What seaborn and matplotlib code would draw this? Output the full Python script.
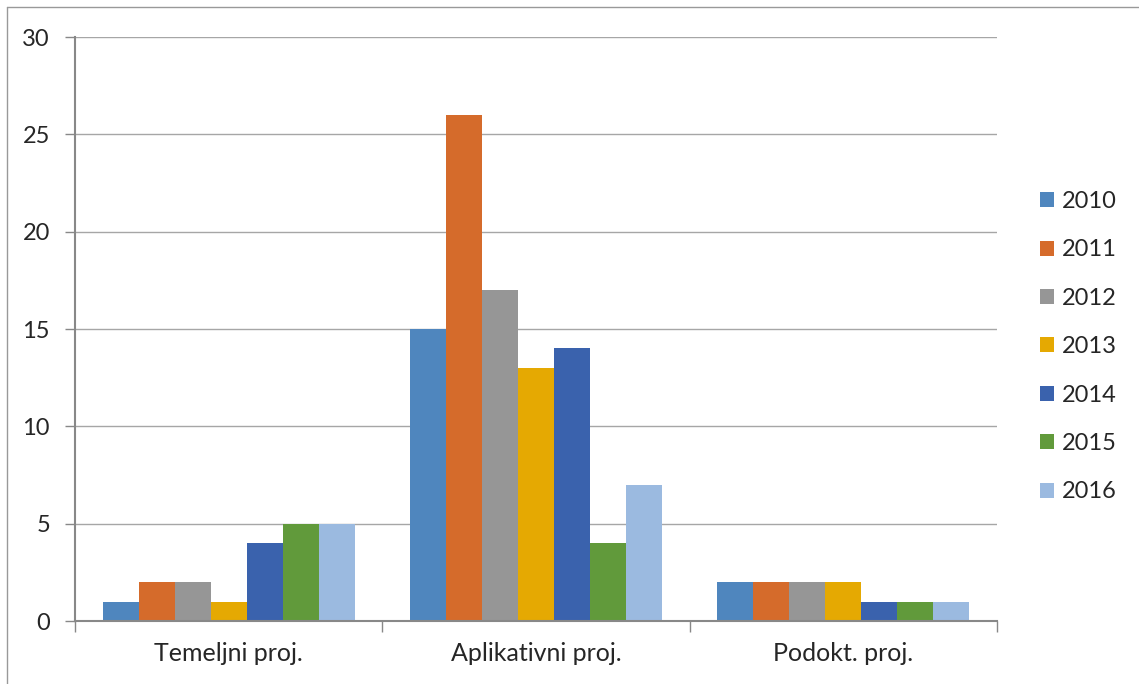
import pandas as pd
import numpy as np
import matplotlib.pyplot as plt
import seaborn as sns
from matplotlib.patches import Patch

# chart data
categories = ["Temeljni proj.", "Aplikativni proj.", "Podokt. proj."]
years = ["2010", "2011", "2012", "2013", "2014", "2015", "2016"]
temeljni = [1, 2, 2, 1, 4, 5, 5]
aplikativni = [15, 26, 17, 13, 14, 4, 7]
podokt = [2, 2, 2, 2, 1, 1, 1]
colors = ["#4F86BE", "#D56B2B", "#969696", "#E5A902", "#3A62AD", "#619A3B", "#9BBAE0"]

rows = []
for cat, vals in zip(categories, [temeljni, aplikativni, podokt]):
    for y, v in zip(years, vals):
        rows.append({"cat": cat, "year": y, "value": v})
df = pd.DataFrame(rows)

sns.set_style("white")
plt.rcParams['font.family'] = ['Lato', 'DejaVu Sans']

fig = plt.figure(figsize=(11.39, 6.84), dpi=100)
ax = fig.add_axes([75 / 1139, 1 - 621 / 684, (997 - 75) / 1139, (621 - 37) / 684])

sns.barplot(data=df, x="cat", y="value", hue="year", order=categories,
            hue_order=years, palette=colors, width=0.82, gap=0,
            saturation=1, ax=ax, legend=False, linewidth=0)

ax.set_xlim(-0.5, 2.5)
ax.set_ylim(0, 30)
ax.set_yticks(range(0, 31, 5))
ax.set_xlabel("")
ax.set_ylabel("")
ax.yaxis.grid(True, color="#A6A6A6", linewidth=1)
ax.set_axisbelow(True)

for s in ["top", "right"]:
    ax.spines[s].set_visible(False)
for s in ["left", "bottom"]:
    ax.spines[s].set_color("#888888")
    ax.spines[s].set_linewidth(1.5)

ax.tick_params(axis="y", direction="out", length=7, width=1, color="#888888",
               labelsize=17, pad=11, left=True)
ax.tick_params(axis="x", which="major", length=0, labelsize=18, pad=15)
ax.set_xticks([-0.5, 0.5, 1.5, 2.5], minor=True)
ax.tick_params(axis="x", which="minor", direction="out", length=8, width=1,
               color="#888888", bottom=True)

handles = [Patch(facecolor=c, edgecolor="none") for c in colors]
fig.legend(handles, years, loc="upper left", bbox_to_anchor=(1040 / 1139, 1 - 191 / 684),
           frameon=False, fontsize=17, handlelength=0.6, handleheight=0.6,
           labelspacing=1.16, handletextpad=0.34, borderpad=0, borderaxespad=0)

# outer chart frame
fig.add_artist(plt.Line2D([7 / 1139, 7 / 1139], [0, 1 - 7 / 684], transform=fig.transFigure,
                          color="#999999", linewidth=1))
fig.add_artist(plt.Line2D([7 / 1139, 1], [1 - 7 / 684, 1 - 7 / 684], transform=fig.transFigure,
                          color="#999999", linewidth=1))

fig.savefig("out.png", dpi=100)
